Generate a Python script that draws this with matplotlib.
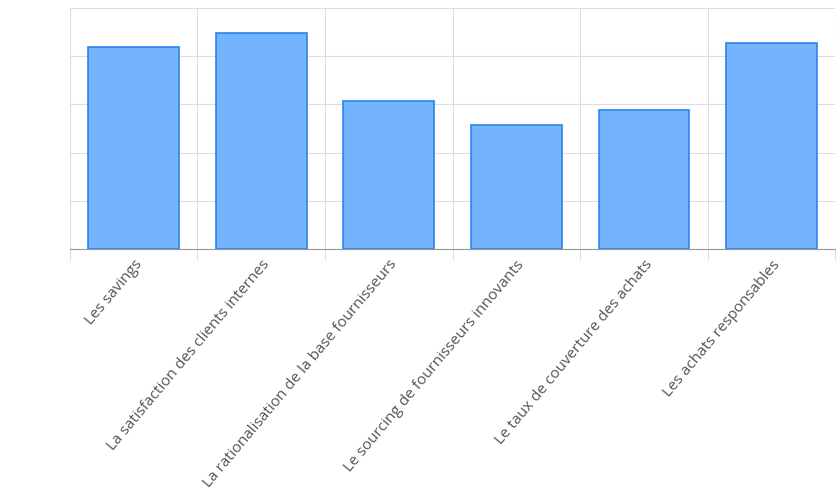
import matplotlib
matplotlib.use("Agg")
import matplotlib.pyplot as plt

categories = ["Les savings", "La satisfaction des clients internes",
              "La rationalisation de la base fournisseurs",
              "Le sourcing de fournisseurs innovants",
              "Le taux de couverture des achats", "Les achats responsables"]
values = [4.19, 4.48, 3.07, 2.57, 2.88, 4.27]

plt.rcParams['font.family'] = ['Open Sans', 'DejaVu Sans']
fig = plt.figure(figsize=(8.38, 5), dpi=100)
ax = fig.add_axes([0.0835, 0.502, 0.913, 0.482])
x = list(range(len(categories)))
ax.bar(x, values, width=0.71, color="#74b3fd", edgecolor="#2a85e8", linewidth=1.2, zorder=3)
ax.set_xlim(-0.5, len(categories) - 0.5)
ax.set_ylim(0, 5)
ax.set_yticks([0, 1, 2, 3, 4, 5])
ax.set_yticklabels([])
ax.set_xticks([i + 0.5 for i in range(-1, len(categories))], minor=False)
ax.set_xticklabels([])
ax.set_xticks(x, minor=True)
ax.set_xticklabels(categories, minor=True, rotation=50, ha="right", va="top",
                   rotation_mode="anchor", fontsize=11, color="#555555")
ax.tick_params(axis="x", which="minor", length=0, pad=6)
ax.tick_params(axis="x", which="major", length=8, color="#dddddd")
ax.tick_params(axis="y", length=0)
ax.grid(True, which="major", color="#dddddd", linewidth=0.8, zorder=0)
for s in ["top", "right", "left"]:
    ax.spines[s].set_visible(False)
ax.spines["bottom"].set_color("#999999")
fig.savefig("out.png", dpi=100)
